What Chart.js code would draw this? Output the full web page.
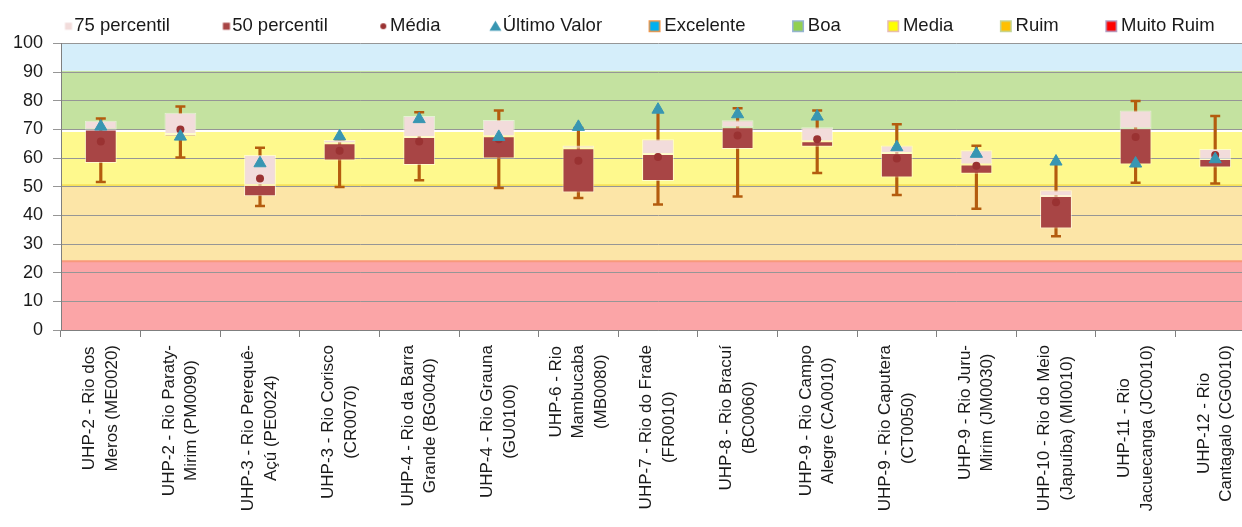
<!DOCTYPE html>
<html lang="pt-BR">
<head>
<meta charset="utf-8">
<title>IQA - percentis por estação</title>
<script src="https://cdn.jsdelivr.net/npm/chart.js@4.4.1/dist/chart.umd.min.js"></script>
<style>
    html, body { margin: 0; padding: 0; background: #fff; overflow: hidden; }
    /* the plot runs past the right edge of the window, as in the original export */
    .chart-box { position: relative; width: 1263px; height: 527px; }
</style>
</head>
<body>
<div class="chart-box"><canvas id="iqaChart"></canvas></div>
<script>
/* ---------- data ---------- */
const stations = [
    ['UHP-2 - Rio dos', 'Meros (ME0020)'],
    ['UHP-2 - Rio Paraty-', 'Mirim (PM0090)'],
    ['UHP-3 - Rio Perequê-', 'Açú (PE0024)'],
    ['UHP-3 - Rio Corisco', '(CR0070)'],
    ['UHP-4 - Rio da Barra', 'Grande (BG0040)'],
    ['UHP-4 - Rio Grauna', '(GU0100)'],
    ['UHP-6 - Rio', 'Mambucaba', '(MB0080)'],
    ['UHP-7 - Rio do Frade', '(FR0010)'],
    ['UHP-8 - Rio Bracuí', '(BC0060)'],
    ['UHP-9 - Rio Campo', 'Alegre (CA0010)'],
    ['UHP-9 - Rio Caputera', '(CT0050)'],
    ['UHP-9 - Rio Juru-', 'Mirim (JM0030)'],
    ['UHP-10 - Rio do Meio', '(Japuíba) (MI0010)'],
    ['UHP-11 - Rio', 'Jacuecanga (JC0010)'],
    ['UHP-12 - Rio', 'Cantagalo (CG0010)']
];

const minValues    = [51.7, 60.2, 43.3, 49.9, 52.3, 49.6, 46.1, 43.8, 46.6, 54.8, 47.1, 42.3, 32.7, 51.4, 51.1];
const p25Values    = [58.3, 67.6, 46.7, 59.2, 57.6, 59.9, 48.0, 52.0, 63.2, 64.0, 53.2, 54.5, 35.4, 57.8, 56.7];
const medianValues = [70.0, 68.4, 50.6, 65.2, 67.4, 67.6, 63.4, 61.4, 70.8, 65.9, 61.8, 57.8, 46.8, 70.4, 59.7];
const p75Values    = [73.0, 75.8, 61.1, 66.3, 74.7, 73.3, 64.4, 66.6, 73.2, 70.8, 64.4, 62.7, 48.8, 76.6, 63.2];
const maxValues    = [73.8, 78.0, 63.6, 66.5, 76.0, 76.6, 70.5, 76.3, 77.4, 76.6, 71.8, 64.3, 58.0, 79.9, 74.7];
const meanValues   = [65.8, 70.0, 52.9, 62.6, 65.8, 66.6, 59.1, 60.4, 67.9, 66.6, 59.9, 57.3, 44.6, 67.4, 61.1];
const lastValues   = [71.0, 67.5, 58.2, 67.6, 73.6, 67.4, 70.9, 76.9, 75.3, 74.5, 63.8, 61.5, 58.8, 58.1, 59.6];

// quality classes, bottom to top, and their limits on the 0-100 scale
const bandNames  = ['Muito Ruim', 'Ruim', 'Media', 'Boa', 'Excelente'];
const bandLimits = [0, 24, 50.5, 69.5, 90.5, 100];
const yTicks     = [0, 10, 20, 30, 40, 50, 60, 70, 80, 90, 100];

/* ---------- styles ---------- */
const bandFill         = ['#FBA5A7', '#FCE5A7', '#FEF98D', '#C4E2A0', '#D5EEFA'];
const bandEdge         = ['#F8987B', '#F6E15A', '#FFFFFF', null, null];
const bandLegendFill   = ['#FF0000', '#FFC000', '#FFFF00', '#92D050', '#00B0F0'];
const bandLegendBorder = ['#B3A2C7', '#C3D69B', '#E6B9B8', '#95B3D7', '#F79646'];

const whiskerColor = '#B45C0E';
const boxDark = '#A84545';
const boxLight = '#F2DCDB';
const meanColor = '#9A3232';
const lastColor = '#3896B2';
const textColor = '#1a1a1a';
const FONT = '"Liberation Sans", Arial, sans-serif';

const LEGEND_BOX = 51;
const LEGEND_FONT = 18.5;

/* ---------- legend icons (drawn flush against the label text) ---------- */
const makeIcon = (paint) => {
    const c = document.createElement('canvas');
    c.width = Math.round(LEGEND_BOX + LEGEND_FONT);
    c.height = 14;
    paint(c.getContext('2d'), c.width, c.height / 2);
    return c;
};

const squareIcon = (fill, stroke, size, gap) => makeIcon((g, w, cy) => {
    const x = w - gap - size / 2;
    g.fillStyle = fill;
    g.fillRect(x, cy - size / 2, size, size);
    if (stroke) {
        g.strokeStyle = stroke;
        g.lineWidth = 1.5;
        g.strokeRect(x + 0.75, cy - size / 2 + 0.75, size - 1.5, size - 1.5);
    }
});

const dotIcon = makeIcon((g, w, cy) => {
    g.fillStyle = meanColor;
    g.beginPath();
    g.arc(w - 7, cy, 3, 0, Math.PI * 2);
    g.fill();
});

const triangleIcon = makeIcon((g, w, cy) => {
    const cx = w - 7.5;
    g.fillStyle = lastColor;
    g.beginPath();
    g.moveTo(cx, cy - 5.5);
    g.lineTo(cx + 6, cy + 4.5);
    g.lineTo(cx - 6, cy + 4.5);
    g.closePath();
    g.fill();
});

const legendItems = [
    { text: '75 percentil', pointStyle: squareIcon(boxLight, null, 7, 6) },
    { text: '50 percentil', pointStyle: squareIcon(boxDark, null, 7, 6) },
    { text: 'Média', pointStyle: dotIcon },
    { text: 'Último Valor', pointStyle: triangleIcon }
];
for (let i = bandNames.length - 1; i >= 0; i--) {
    legendItems.push({ text: bandNames[i], pointStyle: squareIcon(bandLegendFill[i], bandLegendBorder[i], 12, 10) });
}
legendItems.forEach((item) => {
    item.fillStyle = 'transparent';
    item.strokeStyle = 'transparent';
    item.lineWidth = 0;
    item.hidden = false;
    item.fontColor = textColor;
});

/* ---------- plugins ---------- */
// coloured quality bands behind the grid
const qualityBands = {
    id: 'qualityBands',
    afterLayout(chart) {
        // nudge the legend row down a little, the plot area stays where it is
        chart.legend.top += 2;
        chart.legend.bottom += 2;
    },
    beforeDraw(chart) {
        const { ctx, chartArea: area, scales: { y } } = chart;
        ctx.save();
        ctx.beginPath();
        ctx.rect(area.left, area.top, area.right - area.left, area.bottom - area.top);
        ctx.clip();
        bandNames.forEach((name, i) => {
            const top = y.getPixelForValue(bandLimits[i + 1]);
            const bottom = y.getPixelForValue(bandLimits[i]);
            ctx.fillStyle = bandFill[i];
            ctx.fillRect(area.left, top, area.right - area.left, bottom - top);
        });
        bandNames.forEach((name, i) => {
            if (!bandEdge[i]) return;
            const top = y.getPixelForValue(bandLimits[i + 1]);
            ctx.strokeStyle = bandEdge[i];
            ctx.lineWidth = 2;
            ctx.beginPath();
            ctx.moveTo(area.left, top);
            ctx.lineTo(area.right, top);
            ctx.stroke();
        });
        ctx.restore();
    }
};

// vertical, centred, multi-line station names under each category
const stationLabels = {
    id: 'stationLabels',
    afterDraw(chart) {
        const { ctx, scales: { x } } = chart;
        ctx.save();
        ctx.font = '17px ' + FONT;
        ctx.fillStyle = textColor;
        ctx.textAlign = 'center';
        ctx.textBaseline = 'middle';
        stations.forEach((lines, i) => {
            const longest = Math.max(...lines.map((l) => ctx.measureText(l).width));
            ctx.save();
            ctx.translate(x.getPixelForValue(i), x.top + 15 + longest / 2);
            ctx.rotate(-Math.PI / 2);
            lines.forEach((line, j) => ctx.fillText(line, 0, (j - (lines.length - 1) / 2) * 22.5));
            ctx.restore();
        });
        ctx.restore();
    }
};

/* ---------- chart ---------- */
const boxBar = {
    grouped: false,
    barPercentage: 0.4,
    categoryPercentage: 1,
    borderColor: 'rgba(255, 255, 255, 0.55)',
    borderWidth: 1,
    borderSkipped: false
};

const markers = { type: 'line', showLine: false, pointHoverRadius: 0 };

new Chart(document.getElementById('iqaChart'), {
    type: 'bar',
    data: {
        labels: stations.map((lines) => lines.join(' ')),
        datasets: [
            {
                ...markers,
                label: 'Último Valor',
                data: lastValues,
                pointStyle: 'triangle',
                pointRadius: 7,
                pointBackgroundColor: lastColor,
                pointBorderColor: lastColor,
                pointBorderWidth: 1,
                order: 0
            },
            {
                ...markers,
                label: 'Média',
                data: meanValues,
                pointStyle: 'circle',
                pointRadius: 4,
                pointBackgroundColor: meanColor,
                pointBorderColor: meanColor,
                pointBorderWidth: 0,
                order: 1
            },
            {
                ...boxBar,
                label: '75 percentil',
                data: medianValues.map((m, i) => [m, p75Values[i]]),
                backgroundColor: boxLight,
                order: 2
            },
            {
                ...boxBar,
                label: '50 percentil',
                data: p25Values.map((q, i) => [q, medianValues[i]]),
                backgroundColor: boxDark,
                order: 3
            },
            {
                ...markers,
                label: 'máximo',
                data: maxValues,
                pointStyle: 'line',
                pointRadius: 5,
                pointBorderColor: whiskerColor,
                pointBorderWidth: 2.5,
                order: 4
            },
            {
                ...markers,
                label: 'mínimo',
                data: minValues,
                pointStyle: 'line',
                pointRadius: 5,
                pointBorderColor: whiskerColor,
                pointBorderWidth: 2.5,
                order: 4
            },
            {
                label: 'amplitude',
                data: minValues.map((v, i) => [v, maxValues[i]]),
                backgroundColor: whiskerColor,
                barThickness: 2.5,
                grouped: false,
                order: 5
            }
        ]
    },
    options: {
        responsive: true,
        maintainAspectRatio: false,
        animation: false,
        layout: { padding: { left: 12, top: 13, right: 0, bottom: 0 } },
        plugins: {
            tooltip: { enabled: false },
            legend: {
                align: 'start',
                onClick: () => {},
                labels: {
                    usePointStyle: true,
                    pointStyleWidth: LEGEND_BOX,
                    boxHeight: 12,
                    padding: 2,
                    color: textColor,
                    font: { family: FONT, size: LEGEND_FONT },
                    generateLabels: () => legendItems
                }
            }
        },
        scales: {
            x: {
                grid: { drawOnChartArea: false, tickLength: 7, color: '#7f7f7f' },
                border: { color: '#7f7f7f' },
                ticks: { display: false },
                afterFit: (scale) => { scale.height = 197; }
            },
            y: {
                min: yTicks[0],
                max: yTicks[yTicks.length - 1],
                afterBuildTicks: (scale) => { scale.ticks = yTicks.map((v) => ({ value: v })); },
                afterFit: (scale) => { scale.width = 49; },
                ticks: { padding: 10, color: textColor, font: { family: FONT, size: 18 } },
                grid: { color: '#969696', tickLength: 8 },
                border: { color: '#7f7f7f' }
            }
        }
    },
    plugins: [qualityBands, stationLabels]
});
</script>
</body>
</html>
